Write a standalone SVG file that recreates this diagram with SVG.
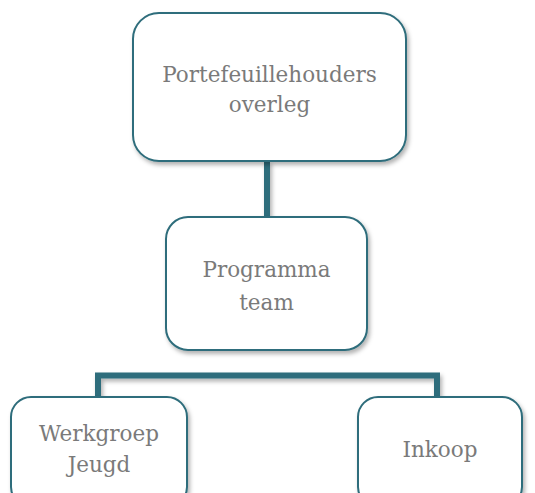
<svg xmlns="http://www.w3.org/2000/svg" width="535" height="493" viewBox="0 0 535 493">
  <defs>
    <filter id="shadow" filterUnits="userSpaceOnUse" x="0" y="0" width="535" height="493">
      <feDropShadow dx="2" dy="3" stdDeviation="2" flood-color="#000" flood-opacity="0.3"/>
    </filter>
  </defs>
  <style>
    .box { fill: #ffffff; stroke: #2f6d7b; stroke-width: 2; filter: url(#shadow); }
    .link { fill: none; stroke: #2f6d7b; stroke-width: 6; filter: url(#shadow); }
    .label { font-family: "DejaVu Serif", "Liberation Serif", serif; font-size: 21.5px; fill: #7a7a7a; text-anchor: middle; }
  </style>

  <g id="connectors">
    <line class="link" x1="267" y1="161" x2="267" y2="217"/>
    <polyline class="link" points="98,398 98,375.5 437,375.5 437,398"/>
  </g>

  <g id="portefeuillehouders">
    <rect class="box" x="133" y="13" width="273" height="148" rx="26"/>
    <text class="label" x="269.5" y="82">Portefeuillehouders</text>
    <text class="label" x="269.5" y="112">overleg</text>
  </g>

  <g id="programmateam">
    <rect class="box" x="166" y="217" width="201" height="133" rx="22"/>
    <text class="label" x="266.5" y="277">Programma</text>
    <text class="label" x="266.5" y="310">team</text>
  </g>

  <g id="werkgroep-jeugd">
    <rect class="box" x="11" y="397" width="176" height="110" rx="20"/>
    <text class="label" x="99" y="441">Werkgroep</text>
    <text class="label" x="99" y="472">Jeugd</text>
  </g>

  <g id="inkoop">
    <rect class="box" x="358" y="397" width="164" height="110" rx="20"/>
    <text class="label" x="440" y="457">Inkoop</text>
  </g>
</svg>
